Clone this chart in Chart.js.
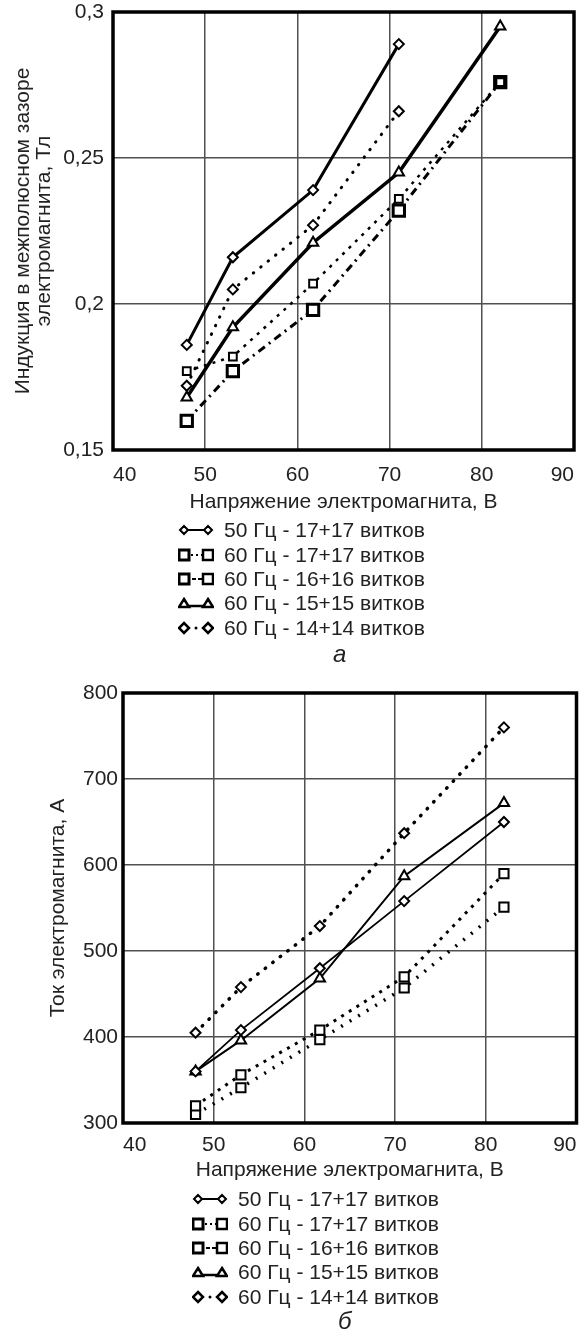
<!DOCTYPE html>
<html>
<head>
<meta charset="utf-8">
<script src="https://cdn.jsdelivr.net/npm/chart.js@4/dist/chart.umd.min.js"></script>
<style>
body { margin: 0; background: #fff; font-family: "Liberation Sans", Arial, sans-serif; color: #222; }
#page { position: relative; width: 585px; height: 1336px; overflow: hidden; }
canvas { position: absolute; left: 0; }
.legend { position: absolute; font-size: 21px; }
.row { display: flex; align-items: center; height: 24.4px; white-space: nowrap; }
.row svg { margin-right: 10px; flex: none; }
.cap { position: absolute; font-size: 24px; font-style: italic; }
</style>
</head>
<body>
<div id="page">
  <canvas id="top" width="585" height="520" style="top:0"></canvas>
  <div class="legend" id="legTop" style="left:178px; top:518px"></div>
  <div class="cap" style="left:333px; top:640px">а</div>
  <canvas id="bottom" width="585" height="510" style="top:680px"></canvas>
  <div class="legend" id="legBottom" style="left:192px; top:1187px"></div>
  <div class="cap" style="left:338px; top:1307px">б</div>
</div>
<script>
'use strict';

// напряжение, В
const voltage = [48, 53, 61.7, 71, 82];

// а: индукция, Тл
const ind50_17 = [0.186, 0.216, 0.239, 0.289];
const ind60_17 = [0.177, 0.182, 0.207, 0.236, 0.276];
const ind60_16 = [0.160, 0.177, 0.198, 0.232, 0.276];
const ind60_15 = [0.168, 0.192, 0.221, 0.245, 0.295];
const ind60_14 = [0.172, 0.205, 0.227, 0.266];

// б: ток, А
const cur50_17 = [360, 408, 480, 558, 650];
const cur60_17 = [320, 356, 408, 470, 590];
const cur60_16 = [310, 341, 397, 457, 551];
const cur60_15 = [360, 396, 468, 587, 672];
const cur60_14 = [405, 458, 529, 637, 760];

const labels = ['50 Гц - 17+17 витков', '60 Гц - 17+17 витков', '60 Гц - 16+16 витков',
                '60 Гц - 15+15 витков', '60 Гц - 14+14 витков'];
const xTicks = [40, 50, 60, 70, 80, 90];

Chart.defaults.font.family = '"Liberation Sans", Arial, sans-serif';
Chart.defaults.color = '#222';

function points(ys){
    return ys.map((y, i) => ({x: voltage[i], y: y}));
}

function series(label, ys, style){
    return Object.assign({
        label: label,
        data: points(ys),
        borderColor: '#000',
        pointBorderColor: '#000',
        pointBackgroundColor: '#fff',
        pointBorderWidth: 2,
        tension: 0,
        clip: false
    }, style);
}

const frame = {
    id: 'frame',
    afterDraw(chart){
        const a = chart.chartArea;
        const c = chart.ctx;
        c.save();
        c.strokeStyle = '#000';
        c.lineWidth = 3.5;
        c.strokeRect(a.left, a.top, a.right - a.left, a.bottom - a.top);
        c.restore();
    }
};

function createChart(id, datasets, y, layout){
    new Chart(document.getElementById(id), {
        type: 'line',
        data: {datasets: datasets},
        plugins: [frame],
        options: {
            responsive: false,
            animation: false,
            layout: {padding: layout.padding},
            plugins: {legend: {display: false}, tooltip: {enabled: false}},
            scales: {
                x: {
                    type: 'linear', min: 40, max: 90,
                    afterBuildTicks: s => { s.ticks = xTicks.map(v => ({value: v})); },
                    afterFit: s => { s.height = layout.xHeight; s.paddingLeft = 0; s.paddingRight = 0; },
                    grid: {color: '#505050', lineWidth: 1.5, drawTicks: false},
                    border: {display: false},
                    ticks: {font: {size: 21}, padding: layout.xPad, maxRotation: 0, align: 'inner'},
                    title: {display: true, text: 'Напряжение электромагнита, В', font: {size: 21},
                            padding: {top: 0, bottom: layout.xTitlePad}}
                },
                y: {
                    min: y.min, max: y.max,
                    afterBuildTicks: s => { s.ticks = y.ticks.map(v => ({value: v})); },
                    afterFit: s => { s.width = layout.yWidth; s.paddingTop = 0; s.paddingBottom = 0; },
                    grid: {color: '#505050', lineWidth: 1.5, drawTicks: false},
                    border: {display: false},
                    ticks: {font: {size: 21}, padding: layout.yPad,
                            callback: v => String(Math.round(v * 100) / 100).replace('.', ',')},
                    title: {display: true, text: y.title, font: {size: 21, lineHeight: 1.0},
                            padding: {top: layout.yTitlePad, bottom: 0}}
                }
            }
        }
    });
}

createChart('top', [
    series(labels[0], ind50_17, {borderWidth: 3, pointStyle: 'rectRot', pointRadius: 5}),
    series(labels[1], ind60_17, {borderWidth: 2.5, borderDash: [3, 6], pointStyle: 'rect', pointRadius: 5.5}),
    series(labels[2], ind60_16, {borderWidth: 3, borderDash: [8, 5, 2, 5], pointStyle: 'rect', pointRadius: 8, pointBorderWidth: 3}),
    series(labels[3], ind60_15, {borderWidth: 3.5, pointStyle: 'triangle', pointRadius: 6}),
    series(labels[4], ind60_14, {borderWidth: 3, borderDash: [0.5, 9], borderCapStyle: 'round', pointStyle: 'rectRot', pointRadius: 5})
], {min: 0.15, max: 0.3, ticks: [0.15, 0.2, 0.25, 0.3],
    title: ['Индукция в межполюсном зазоре', 'электромагнита, Тл']},
   {padding: {top: 12, right: 9, left: 0, bottom: 0}, xHeight: 70, xPad: 12.5, xTitlePad: 5.4,
    yWidth: 113, yPad: 9, yTitlePad: 12.5});

createChart('bottom', [
    series(labels[0], cur50_17, {borderWidth: 1.8, pointStyle: 'rectRot', pointRadius: 5}),
    series(labels[1], cur60_17, {borderWidth: 3, borderDash: [3, 6], pointStyle: 'rect', pointRadius: 6.5}),
    series(labels[2], cur60_16, {borderWidth: 3.5, borderDash: [2, 8], pointStyle: 'rect', pointRadius: 6.5}),
    series(labels[3], cur60_15, {borderWidth: 2, pointStyle: 'triangle', pointRadius: 6}),
    series(labels[4], cur60_14, {borderWidth: 3.5, borderDash: [0.5, 9], borderCapStyle: 'round', pointStyle: 'rectRot', pointRadius: 5})
], {min: 300, max: 800, ticks: [300, 400, 500, 600, 700, 800], title: 'Ток электромагнита, А'},
   {padding: {top: 13, right: 5, left: 0, bottom: 0}, xHeight: 67, xPad: 9.5, xTitlePad: 7.4,
    yWidth: 123, yPad: 5, yTitlePad: 47.5});

// легенда
const icons = [
    '<line x1="3" y1="8" x2="31" y2="8" stroke="#000" stroke-width="2"/><path d="M6 4 L10 8 L6 12 L2 8 Z M30 4 L34 8 L30 12 L26 8 Z" fill="#fff" stroke="#000" stroke-width="2"/>',
    '<line x1="8" y1="8" x2="28" y2="8" stroke="#000" stroke-width="2" stroke-dasharray="2 3"/><rect x="1" y="3" width="10" height="10" fill="#fff" stroke="#000" stroke-width="3"/><rect x="25" y="3" width="10" height="10" fill="#fff" stroke="#000" stroke-width="2.5"/>',
    '<line x1="8" y1="8" x2="28" y2="8" stroke="#000" stroke-width="2" stroke-dasharray="4 2"/><rect x="1" y="3" width="10" height="10" fill="#fff" stroke="#000" stroke-width="3"/><rect x="25" y="3" width="10" height="10" fill="#fff" stroke="#000" stroke-width="2.5"/>',
    '<line x1="3" y1="11" x2="33" y2="11" stroke="#000" stroke-width="2.5"/><path d="M6 4 L11 12 L1 12 Z M30 4 L35 12 L25 12 Z" fill="#fff" stroke="#000" stroke-width="2.5"/>',
    '<circle cx="18" cy="8" r="1.5" fill="#000"/><path d="M6 3 L11 8 L6 13 L1 8 Z M30 3 L35 8 L30 13 L25 8 Z" fill="#fff" stroke="#000" stroke-width="2.5"/>'
];

function fillLegend(id){
    document.getElementById(id).innerHTML = labels.map((t, i) =>
        '<div class="row"><svg width="36" height="16" viewBox="0 0 36 16">' + icons[i] + '</svg>' + t + '</div>'
    ).join('');
}
fillLegend('legTop');
fillLegend('legBottom');
</script>
</body>
</html>
